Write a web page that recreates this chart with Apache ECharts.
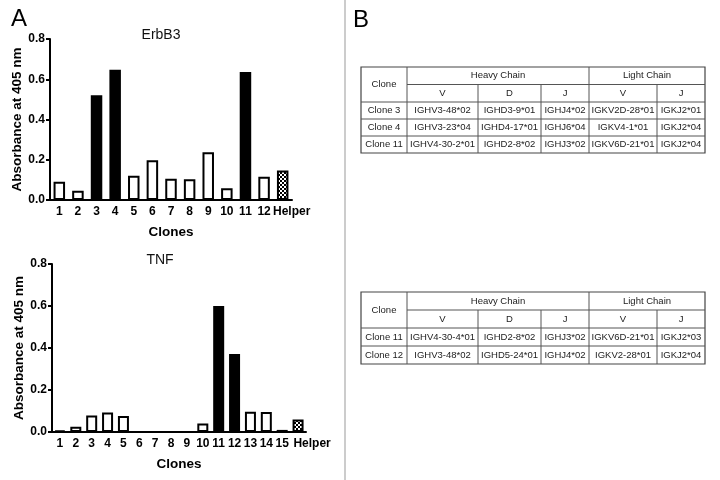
<!DOCTYPE html>
<html><head><meta charset="utf-8">
<script src="https://cdn.jsdelivr.net/npm/echarts@6/dist/echarts.min.js"></script>
<style>html,body{margin:0;padding:0;background:#fff}#c{width:720px;height:480px}</style>
</head><body><div id="c"></div>
<script>
// ---- data ----
const erbCategories = ['1','2','3','4','5','6','7','8','9','10','11','12','Helper'];
const erbValues = [0.091,0.046,0.52,0.647,0.12,0.198,0.106,0.103,0.237,0.058,0.636,0.116,0.146];
const erbFill = ['open','open','solid','solid','open','open','open','open','open','open','solid','open','helper'];

const tnfCategories = ['1','2','3','4','5','6','7','8','9','10','11','12','13','14','15','Helper'];
const tnfValues = [0.006,0.025,0.079,0.093,0.076,0,0,0,0,0.041,0.6,0.371,0.097,0.095,0.01,0.06];
const tnfFill = ['open','open','open','open','open','open','open','open','open','open','solid','solid','open','open','open','helper'];

const tableHeaderTop = ['Clone','Heavy Chain','Light Chain'];
const tableHeaderSub = ['V','D','J','V','J'];
const table1Rows = [
  ['Clone 3','IGHV3-48*02','IGHD3-9*01','IGHJ4*02','IGKV2D-28*01','IGKJ2*01'],
  ['Clone 4','IGHV3-23*04','IGHD4-17*01','IGHJ6*04','IGKV4-1*01','IGKJ2*04'],
  ['Clone 11','IGHV4-30-2*01','IGHD2-8*02','IGHJ3*02','IGKV6D-21*01','IGKJ2*04']
];
const table2Rows = [
  ['Clone 11','IGHV4-30-4*01','IGHD2-8*02','IGHJ3*02','IGKV6D-21*01','IGKJ2*03'],
  ['Clone 12','IGHV3-48*02','IGHD5-24*01','IGHJ4*02','IGKV2-28*01','IGKJ2*04']
];

// ---- pattern ----
const pc = document.createElement('canvas');
pc.width = 4; pc.height = 4;
const pctx = pc.getContext('2d');
pctx.fillStyle = '#fff'; pctx.fillRect(0,0,4,4);
pctx.fillStyle = '#000'; pctx.fillRect(0,0,2,2); pctx.fillRect(2,2,2,2);

function fillColor(t){
  if (t === 'solid') return '#000';
  if (t === 'helper') return {image: pc, repeat: 'repeat'};
  return '#fff';
}
function barData(vals, fills){
  return vals.map((v,i)=>({value:v, itemStyle:{color: fillColor(fills[i]), borderColor:'#000', borderWidth:2}}));
}
// the last ("Helper") label sits a little right of its tick, as in the reference
function catData(cats, shift){
  return cats.map((c,i)=> i === cats.length-1 ? {value:c, textStyle:{padding:[0,0,0,shift]}} : c);
}

const FONT = 'Liberation Sans, Arial, sans-serif';
const axisTextBold = {color:'#000', fontWeight:'bold', fontSize:12, fontFamily: FONT};

function xAxis(idx, cats, shift){
  return {type:'category', gridIndex:idx, data:catData(cats, shift),
    axisLine:{lineStyle:{color:'#000', width:2}},
    axisTick:{alignWithLabel:true, length:5, lineStyle:{color:'#000', width:2}},
    axisLabel:Object.assign({margin:6, interval:0}, axisTextBold),
    name:'Clones', nameLocation:'middle', nameGap:25,
    nameTextStyle:{color:'#000', fontWeight:'bold', fontSize:13.5, fontFamily:FONT}
  };
}
function yAxis(idx){
  return {type:'value', gridIndex:idx, min:0, max:0.8, interval:0.2,
    axisLine:{show:true, lineStyle:{color:'#000', width:2}},
    axisTick:{show:true, length:4, lineStyle:{color:'#000', width:2}},
    splitLine:{show:false},
    axisLabel:Object.assign({margin:5, formatter:v=>v.toFixed(1)}, axisTextBold),
    name:'Absorbance at 405 nm', nameLocation:'middle', nameRotate:90, nameGap:26,
    nameTextStyle:{color:'#000', fontWeight:'bold', fontSize:13.5, fontFamily:FONT}
  };
}

// ---- table graphics ----
function buildTable(xs, ys, rows){
  const els = [];
  const lineStyle = {stroke:'#555', lineWidth:1};
  const L = xs[0], R = xs[xs.length-1], T = ys[0], B = ys[ys.length-1];
  els.push({type:'rect', shape:{x:L, y:T, width:R-L, height:B-T}, style:{fill:null, stroke:'#444', lineWidth:1.2}});
  els.push({type:'line', shape:{x1:xs[1], y1:ys[1], x2:R, y2:ys[1]}, style:lineStyle});
  for (let r = 2; r < ys.length-1; r++)
    els.push({type:'line', shape:{x1:L, y1:ys[r], x2:R, y2:ys[r]}, style:lineStyle});
  [1,4].forEach(c=>els.push({type:'line', shape:{x1:xs[c], y1:T, x2:xs[c], y2:B}, style:lineStyle}));
  [2,3,5].forEach(c=>els.push({type:'line', shape:{x1:xs[c], y1:ys[1], x2:xs[c], y2:B}, style:lineStyle}));
  const txt = (s, x, y) => els.push({type:'text', x:x, y:y, style:{text:s, fill:'#222', font:'9.5px ' + FONT, align:'center', verticalAlign:'middle'}});
  txt(tableHeaderTop[0], (xs[0]+xs[1])/2, (ys[0]+ys[2])/2);
  txt(tableHeaderTop[1], (xs[1]+xs[4])/2, (ys[0]+ys[1])/2);
  txt(tableHeaderTop[2], (xs[4]+xs[6])/2, (ys[0]+ys[1])/2);
  tableHeaderSub.forEach((s,i)=>txt(s, (xs[i+1]+xs[i+2])/2, (ys[1]+ys[2])/2));
  rows.forEach((row, r)=>row.forEach((s,c)=>txt(s, (xs[c]+xs[c+1])/2, (ys[r+2]+ys[r+3])/2)));
  return els;
}
const colX = [361, 407, 478, 541, 589, 657, 705];
const graphics = [
  {type:'line', shape:{x1:345, y1:0, x2:345, y2:480}, style:{stroke:'#999', lineWidth:1}},
  {type:'text', x:19, y:19, style:{text:'A', font:'24px ' + FONT, fill:'#000', align:'center', verticalAlign:'middle'}},
  {type:'text', x:361, y:20, style:{text:'B', font:'24px ' + FONT, fill:'#000', align:'center', verticalAlign:'middle'}},
  {type:'text', x:161, y:35, style:{text:'ErbB3', font:'14px ' + FONT, fill:'#111', align:'center', verticalAlign:'middle'}},
  {type:'text', x:160, y:260, style:{text:'TNF', font:'14px ' + FONT, fill:'#111', align:'center', verticalAlign:'middle'}}
].concat(buildTable(colX, [67, 84.5, 102, 119, 136, 153], table1Rows))
 .concat(buildTable(colX, [292, 310, 328, 346, 364], table2Rows));

const chart = echarts.init(document.getElementById('c'), null, {renderer:'canvas'});
chart.setOption({
  animation:false,
  backgroundColor:'#fff',
  grid:[
    {left:50, top:39, width:242, height:161},
    {left:52, top:264, width:254, height:168}
  ],
  xAxis:[xAxis(0, erbCategories, 18), xAxis(1, tnfCategories, 28)],
  yAxis:[yAxis(0), yAxis(1)],
  series:[
    {type:'bar', xAxisIndex:0, yAxisIndex:0, barWidth:11.5, data:barData(erbValues, erbFill)},
    {type:'bar', xAxisIndex:1, yAxisIndex:1, barWidth:11, data:barData(tnfValues, tnfFill)}
  ],
  graphic:graphics
});
</script></body></html>
